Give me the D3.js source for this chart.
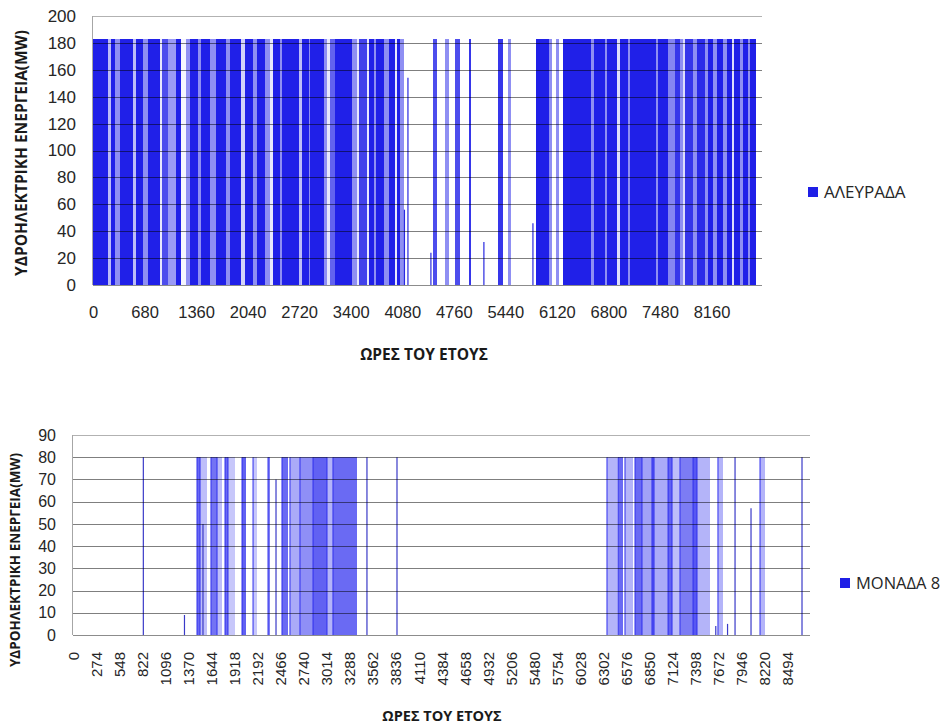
<!DOCTYPE html>
<html>
<head>
<meta charset="utf-8">
<script src="https://cdn.jsdelivr.net/npm/d3@7"></script>
<style>
    body { margin: 0; background: #fff; }
    svg { display: block; font-family: "Open Sans", "DejaVu Sans", sans-serif; }
    .tick text { fill: #262626; }
    .title { font-weight: bold; fill: #1a1a1a; }
</style>
</head>
<body>
<div id="vis"></div>
<script>
/* Hourly hydro output over one year: ΑΛΕΥΡΑΔΑ (top) and ΜΟΝΑΔΑ 8 (bottom) */

// ---- data: tick labels ----
var topYTicks = [0, 20, 40, 60, 80, 100, 120, 140, 160, 180, 200];
var topXTicks = [0, 680, 1360, 2040, 2720, 3400, 4080, 4760, 5440, 6120, 6800, 7480, 8160];
var bottomYTicks = [0, 10, 20, 30, 40, 50, 60, 70, 80, 90];
var bottomXTicks = [0, 274, 548, 822, 1096, 1370, 1644, 1918, 2192, 2466, 2740, 3014, 3288, 3562,
    3836, 4110, 4384, 4658, 4932, 5206, 5480, 5754, 6028, 6302, 6576, 6850, 7124, 7398, 7672,
    7946, 8220, 8494];
var yearHours = 8760;

// ---- data: ΑΛΕΥΡΑΔΑ ----
// output when running (MW)
var aleyradaRated = 183;
// runs: [first hour, last hour, share of hours at rated output]
var aleyradaRuns = [
    [0, 198, 1], [198, 237, 0.3], [237, 290, 1], [290, 356, 0.5], [356, 528, 1], [528, 567, 0.3],
    [567, 660, 1], [660, 725, 0.5], [725, 884, 1], [884, 910, 0.1], [910, 989, 0.8], [989, 1095, 0.45],
    [1095, 1161, 1], [1161, 1227, 0.05], [1227, 1279, 0.5], [1279, 1385, 1], [1385, 1425, 0.5],
    [1425, 1543, 1], [1543, 1622, 0.5], [1622, 1754, 1], [1754, 1807, 0.5], [1807, 1952, 1],
    [1952, 2005, 0.2], [2005, 2110, 1], [2110, 2163, 0.5], [2163, 2269, 1], [2269, 2335, 0.5],
    [2335, 2374, 0.1], [2374, 2467, 1], [2467, 2493, 0.5], [2493, 2717, 1], [2717, 2757, 0.3],
    [2757, 2849, 1], [2849, 2862, 0.5], [2862, 3047, 1], [3047, 3086, 0.5], [3086, 3126, 0.1],
    [3126, 3192, 0.7], [3192, 3416, 1], [3416, 3482, 0.5], [3482, 3509, 0.1], [3509, 3614, 0.85],
    [3614, 3640, 0.1], [3640, 3706, 1], [3706, 3733, 0.5], [3733, 3838, 1], [3838, 3904, 0.5],
    [3904, 3983, 1], [3983, 4010, 0.1], [4010, 4049, 1], [4049, 4102, 0.5],
    [4485, 4537, 0.8], [4643, 4696, 0.5], [4775, 4841, 0.8], [4959, 4986, 0.9],
    [5342, 5408, 0.9], [5474, 5513, 0.5], [5843, 6015, 1], [6015, 6054, 0.5], [6107, 6147, 0.5],
    [6199, 6568, 1], [6568, 6608, 0.5], [6608, 6753, 1], [6753, 6780, 0.5], [6780, 6912, 1],
    [6912, 6951, 0.15], [6951, 7057, 1], [7057, 7083, 0.5], [7083, 7426, 1], [7426, 7452, 0.5],
    [7452, 7584, 1], [7584, 7676, 0.55], [7676, 7742, 0.9], [7742, 7782, 0.5], [7782, 7808, 0.15],
    [7808, 7914, 0.9], [7914, 7967, 0.5], [7967, 8072, 0.95], [8072, 8112, 0.5], [8112, 8178, 1],
    [8178, 8231, 0.5], [8231, 8310, 1], [8310, 8363, 0.5], [8363, 8429, 1], [8429, 8455, 0.15],
    [8455, 8534, 1], [8534, 8574, 0.5], [8574, 8640, 1], [8640, 8666, 0.5], [8666, 8745, 1]
];
// single hours below rated output: [hour, MW]
var aleyradaPeaks = [[4109, 56], [4155, 154], [4458, 24], [5157, 32], [5804, 46]];

// ---- data: ΜΟΝΑΔΑ 8 ----
var monadaRated = 80;
var monadaRuns = [
    [1474, 1510, 0.8], [1510, 1593, 0.35], [1640, 1712, 0.75], [1712, 1771, 0.35], [1807, 1842, 0.8],
    [1842, 1926, 0.3], [2009, 2056, 0.85], [2140, 2187, 0.3], [2318, 2342, 0.7], [2484, 2556, 0.8],
    [2579, 2698, 0.45], [2698, 2853, 0.6], [2853, 3019, 0.85], [3019, 3090, 0.4], [3090, 3376, 0.8],
    [6347, 6466, 0.4], [6478, 6537, 0.8], [6561, 6656, 0.4], [6680, 6763, 0.8], [6763, 6882, 0.5],
    [6882, 6906, 0.9], [6906, 7073, 0.45], [7073, 7120, 0.85], [7120, 7215, 0.35], [7215, 7370, 0.7],
    [7370, 7417, 0.9], [7417, 7571, 0.4], [7666, 7726, 0.4], [8166, 8225, 0.4]
];
var monadaPeaks = [[836, 80], [1325, 9], [1545, 50], [2413, 70], [3494, 80], [3851, 80],
    [7640, 4], [7780, 5], [7869, 80], [8059, 57], [8665, 80]];

var svg = d3.select("#vis").append("svg").attr("width", 943).attr("height", 726);

/************************************** one chart ***************************************/
function drawChart(cfg) {
    var xScale = d3.scaleLinear().domain([0, yearHours]).range([cfg.left, cfg.right]);
    var yScale = d3.scaleLinear().domain([0, cfg.yMax]).range([cfg.bottom, cfg.top]);
    var g = svg.append("g");
    var base = yScale(0), full = yScale(cfg.rated);

    // runs at rated output
    g.selectAll("rect.run").data(cfg.runs).enter().append("rect")
        .attr("class", "run")
        .attr("x", function(d) { return xScale(d[0]); })
        .attr("width", function(d) { return Math.max(1, xScale(d[1]) - xScale(d[0])); })
        .attr("y", full)
        .attr("height", base - full)
        .attr("fill", cfg.color)
        .attr("fill-opacity", function(d) { return d[2] * cfg.shade; })
        .attr("shape-rendering", "crispEdges");

    if (cfg.edges) {
        g.selectAll("line.edge").data(cfg.runs).enter().append("line")
            .attr("class", "edge")
            .attr("x1", function(d) { return xScale(d[0]); })
            .attr("x2", function(d) { return xScale(d[0]); })
            .attr("y1", full).attr("y2", base)
            .attr("stroke", cfg.color).attr("stroke-width", 1);
    }

    // single hours
    g.selectAll("line.peak").data(cfg.peaks).enter().append("line")
        .attr("class", "peak")
        .attr("x1", function(d) { return xScale(d[0]); })
        .attr("x2", function(d) { return xScale(d[0]); })
        .attr("y1", function(d) { return yScale(d[1]); })
        .attr("y2", base)
        .attr("stroke", cfg.peakColor).attr("stroke-width", 1.2);

    // gridlines drawn over the data, like the original
    g.selectAll("line.grid").data(cfg.yTicks.slice(1)).enter().append("line")
        .attr("class", "grid")
        .attr("x1", cfg.left).attr("x2", cfg.right + cfg.gridExtra)
        .attr("y1", function(d) { return Math.round(yScale(d)) + 0.5; })
        .attr("y2", function(d) { return Math.round(yScale(d)) + 0.5; })
        .attr("stroke", "#000")
        .attr("stroke-opacity", function(d) { return d === cfg.yMax ? 0.3 : 0.5; });

    // axis lines
    g.append("line").attr("x1", cfg.left).attr("x2", cfg.right + cfg.gridExtra)
        .attr("y1", Math.round(base) + 0.5).attr("y2", Math.round(base) + 0.5)
        .attr("stroke", "#8c8c8c");
    g.append("line").attr("x1", cfg.left - 0.5).attr("x2", cfg.left - 0.5)
        .attr("y1", cfg.top).attr("y2", base)
        .attr("stroke", "#a6a6a6");

    // y axis labels
    var yAxis = d3.axisLeft(yScale).tickValues(cfg.yTicks).tickSize(0).tickPadding(17)
        .tickFormat(d3.format("d"));
    var yG = g.append("g").attr("transform", "translate(" + cfg.left + ",0)").call(yAxis);
    yG.select(".domain").remove();
    yG.selectAll("text").style("font-size", cfg.yFont + "px");

    // x axis labels
    var xAxis = d3.axisBottom(xScale).tickValues(cfg.xTicks).tickSize(0)
        .tickFormat(d3.format("d"));
    var xG = g.append("g").attr("transform", "translate(0," + base + ")").call(xAxis);
    xG.select(".domain").remove();
    xG.selectAll("text").style("font-size", cfg.xFont + "px");
    if (cfg.rotate) {
        xG.selectAll("text")
            .attr("transform", "rotate(-90)")
            .attr("x", -17).attr("y", 0).attr("dy", "0.35em")
            .style("text-anchor", "end");
    } else {
        xG.selectAll("text").attr("y", 21);
    }

    // axis titles
    svg.append("text").attr("class", "title")
        .attr("transform", "translate(" + cfg.yTitleX + "," + cfg.yTitleY + ") rotate(-90)")
        .attr("text-anchor", "middle").attr("dy", "0.35em")
        .style("font-size", cfg.yTitleFont + "px")
        .text("ΥΔΡΟΗΛΕΚΤΡΙΚΗ ΕΝΕΡΓΕΙΑ(MW)");
    svg.append("text").attr("class", "title")
        .attr("x", cfg.xTitleX).attr("y", cfg.xTitleY)
        .attr("text-anchor", "middle").attr("dy", "0.35em")
        .style("font-size", cfg.xTitleFont + "px")
        .text("ΩΡΕΣ ΤΟΥ ΕΤΟΥΣ");

    // legend
    svg.append("rect").attr("x", cfg.legendX).attr("y", cfg.legendY - 5)
        .attr("width", 10).attr("height", 10).attr("fill", cfg.legendColor);
    svg.append("text").attr("x", cfg.legendX + 16).attr("y", cfg.legendY)
        .attr("dy", "0.35em").style("font-size", cfg.legendFont + "px").attr("fill", "#262626")
        .text(cfg.name);
}

drawChart({
    name: "ΑΛΕΥΡΑΔΑ", runs: aleyradaRuns, peaks: aleyradaPeaks, rated: aleyradaRated,
    yMax: 200, yTicks: topYTicks, xTicks: topXTicks,
    left: 93, right: 757, top: 16, bottom: 285, gridExtra: 5,
    color: "#2020e8", shade: 1, peakColor: "#2a2ae0", legendColor: "#1f1fe6", edges: false, rotate: false,
    yFont: 17, xFont: 16.5,
    yTitleX: 22, yTitleY: 153, yTitleFont: 15.5,
    xTitleX: 424, xTitleY: 355, xTitleFont: 15.5,
    legendX: 808, legendY: 192, legendFont: 17
});

drawChart({
    name: "ΜΟΝΑΔΑ 8", runs: monadaRuns, peaks: monadaPeaks, rated: monadaRated,
    yMax: 90, yTicks: bottomYTicks, xTicks: bottomXTicks,
    left: 73, right: 810, top: 435, bottom: 635, gridExtra: 0,
    color: "#3030ee", shade: 0.9, peakColor: "#3a3ac8", legendColor: "#1f1fe6", edges: true, rotate: true,
    yFont: 16, xFont: 15,
    yTitleX: 15, yTitleY: 560, yTitleFont: 13.5,
    xTitleX: 442, xTitleY: 716, xTitleFont: 14.5,
    legendX: 840, legendY: 583, legendFont: 16.5
});
</script>
</body>
</html>
